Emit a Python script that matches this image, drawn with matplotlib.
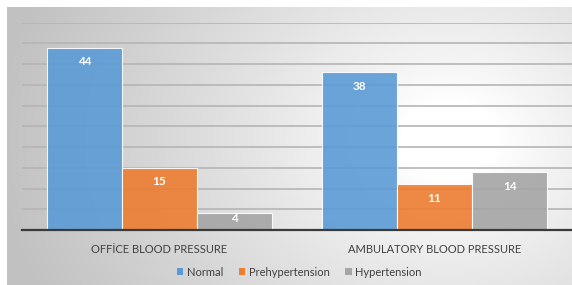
import numpy as np
import matplotlib
matplotlib.use('Agg')
from matplotlib import pyplot as plt
from matplotlib.patches import Patch

plt.rcParams['font.family'] = ['Lato', 'DejaVu Sans']

categories = ['OFFİCE BLOOD PRESSURE', 'AMBULATORY BLOOD PRESSURE']
series = ['Normal', 'Prehypertension', 'Hypertension']
normal = [44, 38]
prehyp = [15, 11]
hyper = [4, 14]
colors = ['#5B9BD5', '#ED7D31', '#A5A5A5']

W, H = 572, 285
fig = plt.figure(figsize=(W / 100, H / 100), dpi=100)
fig.patch.set_facecolor('white')

# gradient background of the chart area
bg = fig.add_axes([7 / W, 0, (W - 7) / W, (H - 7) / H])
gx, gy = np.meshgrid(np.linspace(7, W, 300), np.linspace(7, H, 150))
r = np.sqrt(((gx - 450) / 1.0) ** 2 + ((gy - 140) / 0.8) ** 2)
t = np.clip((r - 50) / 400, 0, 1) ** 0.85
shade = 1 - 0.24 * t
img = np.dstack([shade, shade, shade])
bg.imshow(img, aspect='auto', extent=[0, 1, 0, 1], origin='upper')
bg.set_axis_off()

ax = fig.add_axes([22 / W, (H - 230) / H, (W - 22) / W, (230 - 22.7) / H])
ax.patch.set_alpha(0)
x = np.arange(len(categories))
w = 0.273
for i, (vals, c) in enumerate(zip([normal, prehyp, hyper], colors)):
    xs = x + (i - 1) * w
    ax.bar(xs, vals, w, color=c, alpha=0.9, edgecolor=(1, 1, 1, 0.6), linewidth=0.8, zorder=3)
    for xi, v in zip(xs, vals):
        y = v - 3.4 if v - 3.4 > v / 2 else v * 0.72
        ax.text(xi, y, str(v), ha='center', va='center', color='white',
                fontsize=8.5, fontweight='bold', zorder=4)

ax.set_xlim(-0.5, 1.5)
ax.set_ylim(0, 50)
ax.set_yticks(np.arange(0, 51, 5))
ax.yaxis.grid(True, color='#b5b5b5', linewidth=1.2, zorder=0)
ax.set_axisbelow(True)
for s in ['top', 'right', 'left']:
    ax.spines[s].set_visible(False)
ax.spines['bottom'].set_color('#3a3a3a')
ax.spines['bottom'].set_linewidth(1.6)
ax.spines['bottom'].set_zorder(5)
ax.tick_params(axis='y', left=False, labelleft=False)
ax.tick_params(axis='x', bottom=False, pad=6.5)
ax.set_xticks(x)
ax.set_xticklabels(categories, fontsize=8, color='#404040')

handles = [Patch(facecolor=c, edgecolor='none') for c in colors]
fig.legend(handles, series, loc='center', bbox_to_anchor=(299 / W, 1 - 272 / H),
           ncol=3, frameon=False, fontsize=8, labelcolor='#404040',
           handlelength=0.6, handleheight=0.6, handletextpad=0.3, columnspacing=1.4)

fig.savefig('out.png', dpi=100)
